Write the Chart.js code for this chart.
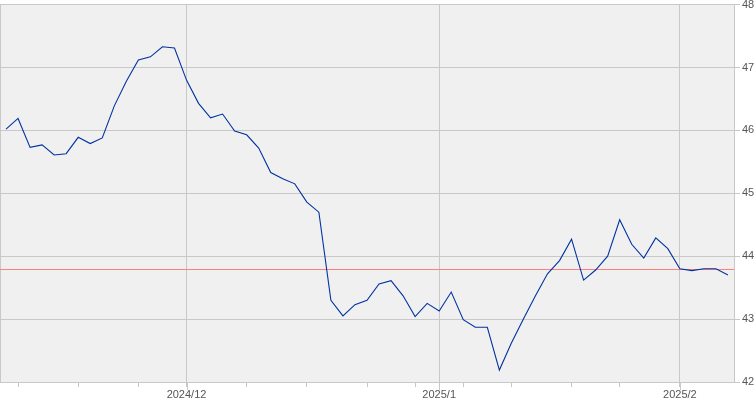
<!DOCTYPE html>
<html>
<head>
<meta charset="utf-8">
<script src="https://cdn.jsdelivr.net/npm/chart.js@4/dist/chart.umd.min.js"></script>
<style>
  html, body { margin: 0; padding: 0; background: #ffffff; overflow: hidden; }
  #wrap { position: absolute; left: 0; top: -4px; width: 755px; height: 404px; }
</style>
</head>
<body>
<div id="wrap"><canvas id="c"></canvas></div>
<script>
// Trading days (x categories)
const dates = [
  '2024-11-08',
  '2024-11-11','2024-11-12','2024-11-13','2024-11-14','2024-11-15',
  '2024-11-18','2024-11-19','2024-11-20','2024-11-21','2024-11-22',
  '2024-11-25','2024-11-26','2024-11-27','2024-11-29',
  '2024-12-02','2024-12-03','2024-12-04','2024-12-05','2024-12-06',
  '2024-12-09','2024-12-10','2024-12-11','2024-12-12','2024-12-13',
  '2024-12-16','2024-12-17','2024-12-18','2024-12-19','2024-12-20',
  '2024-12-23','2024-12-24','2024-12-26','2024-12-27',
  '2024-12-30','2024-12-31',
  '2025-01-02','2025-01-03',
  '2025-01-06','2025-01-07','2025-01-08','2025-01-10',
  '2025-01-13','2025-01-14','2025-01-15','2025-01-16','2025-01-17',
  '2025-01-21','2025-01-22','2025-01-23','2025-01-24',
  '2025-01-27','2025-01-28','2025-01-29','2025-01-30','2025-01-31',
  '2025-02-03','2025-02-04','2025-02-05','2025-02-06','2025-02-07'
];

// Price series
const prices = [
  46.02,
  46.19, 45.73, 45.77, 45.61, 45.63,
  45.89, 45.79, 45.88, 46.39, 46.78,
  47.12, 47.17, 47.33, 47.31,
  46.80, 46.43, 46.20, 46.26, 45.99,
  45.93, 45.72, 45.33, 45.23, 45.15,
  44.86, 44.70, 43.30, 43.05, 43.23,
  43.30, 43.56, 43.61, 43.37,
  43.04, 43.25,
  43.13, 43.43,
  42.99, 42.87, 42.87, 42.19,
  42.62, 43.00, 43.37, 43.72, 43.93,
  44.27, 43.62, 43.78, 44.00,
  44.58, 44.19, 43.97, 44.29, 44.12,
  43.80, 43.77, 43.80, 43.80, 43.70
];

// Reference level (red horizontal line)
const refLevel = 43.80;

// Y tick values
const yTicks = [42, 43, 44, 45, 46, 47, 48];

function parse(d) { const p = d.split('-').map(Number); return new Date(p[0], p[1] - 1, p[2]); }
function isMonthStart(i) {
  if (i === 0) return false;
  return dates[i].slice(0, 7) !== dates[i - 1].slice(0, 7);
}
function isWeekStart(i) {
  if (i === 0) return false;
  const a = parse(dates[i - 1]), b = parse(dates[i]);
  return b.getDay() < a.getDay() || (b - a) >= 7 * 86400000;
}

const GRID = '#c8c8c8';
const TEXT = '#555555';
const REF = '#ff7f7f';

const bgPlugin = {
  id: 'bg',
  beforeDraw(chart) {
    const { ctx, chartArea: a } = chart;
    ctx.save();
    ctx.fillStyle = '#f0f0f0';
    ctx.fillRect(a.left, a.top, a.right - a.left, a.bottom - a.top);
    ctx.restore();
  },
  beforeDatasetsDraw(chart) {
    const { ctx, chartArea: a, scales } = chart;
    ctx.save();
    ctx.lineWidth = 1;
    ctx.strokeStyle = GRID;
    ctx.beginPath();
    ctx.moveTo(a.left + 0.5, a.top);
    ctx.lineTo(a.left + 0.5, a.bottom);
    ctx.stroke();
    // month-start ticks extend further below the axis
    const xs = scales.x;
    ctx.beginPath();
    for (let i = 0; i < dates.length; i++) {
      if (!isMonthStart(i)) continue;
      const x = Math.round(xs.getPixelForTick(i)) + 0.5;
      ctx.moveTo(x, a.bottom);
      ctx.lineTo(x, a.bottom + 8);
    }
    ctx.stroke();
    // reference level line
    const y = Math.round(scales.y.getPixelForValue(refLevel));
    ctx.fillStyle = REF;
    ctx.fillRect(a.left, y, a.right - a.left, 1);
    ctx.restore();
  }
};

new Chart(document.getElementById('c'), {
  type: 'line',
  data: {
    labels: dates,
    datasets: [{
      data: prices,
      borderColor: '#0033a0',
      borderWidth: 1.1,
      pointRadius: 0,
      tension: 0,
      fill: false
    }]
  },
  options: {
    responsive: true,
    maintainAspectRatio: false,
    animation: false,
    events: [],
    layout: { padding: { left: 0, right: 0, top: 0, bottom: 0 } },
    plugins: { legend: { display: false }, tooltip: { enabled: false } },
    scales: {
      x: {
        type: 'category',
        offset: true,
        grid: {
          offset: false,
          color: (c) => (c.tick && isMonthStart(c.index)) ? GRID : 'rgba(0,0,0,0)',
          tickColor: (c) => (c.tick && (isWeekStart(c.index) || isMonthStart(c.index))) ? GRID : 'rgba(0,0,0,0)',
          tickLength: 5,
          lineWidth: 1
        },
        border: { color: GRID },
        ticks: {
          autoSkip: false,
          maxRotation: 0,
          padding: 1,
          color: TEXT,
          font: { family: 'Liberation Sans', size: 11 },
          callback: function (v, i) {
            if (!isMonthStart(i)) return '';
            const d = parse(dates[i]);
            return d.getFullYear() + '/' + (d.getMonth() + 1);
          }
        },
        afterFit: (s) => { s.height = 18; }
      },
      y: {
        position: 'right',
        min: 42,
        max: 48,
        afterBuildTicks: (s) => { s.ticks = yTicks.map(v => ({ value: v })); },
        grid: { color: GRID, tickColor: GRID, tickLength: 6, lineWidth: 1 },
        border: { color: GRID },
        ticks: {
          padding: 2,
          color: TEXT,
          font: { family: 'Liberation Sans', size: 11 }
        },
        afterFit: (s) => { s.width = 21; }
      }
    }
  },
  plugins: [bgPlugin]
});
</script>
</body>
</html>
